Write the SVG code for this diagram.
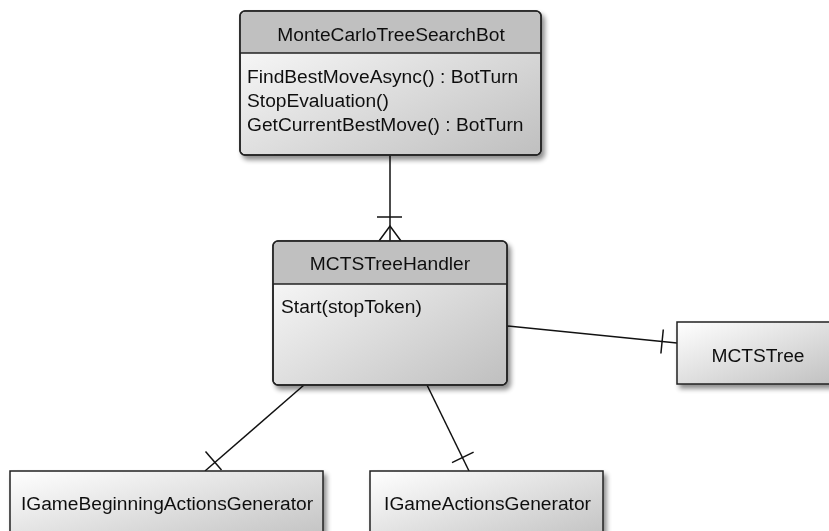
<svg xmlns="http://www.w3.org/2000/svg" width="829" height="531" viewBox="0 0 829 531">
  <style>
    text { font-family: "Liberation Sans", Arial, sans-serif; font-size: 19.2px; fill: #111; }
    .title { text-anchor: middle; }
    .box { stroke: #222; stroke-width: 1.5; fill: url(#bodyGrad); }
    .head { fill: #c0c0c0; stroke: none; }
    .sep { stroke: #222; stroke-width: 1.5; }
    .edge { stroke: #111; stroke-width: 1.5; fill: none; }
  </style>
  <defs>
    <linearGradient id="bodyGrad" x1="0" y1="0" x2="1" y2="1">
      <stop offset="0" stop-color="#ffffff"/>
      <stop offset="1" stop-color="#bfbfbf"/>
    </linearGradient>
    <filter id="shadow" x="-10%" y="-10%" width="125%" height="130%">
      <feGaussianBlur in="SourceAlpha" stdDeviation="2.5"/>
      <feOffset dx="3" dy="4" result="b"/>
      <feComponentTransfer><feFuncA type="linear" slope="0.45"/></feComponentTransfer>
      <feMerge><feMergeNode/><feMergeNode in="SourceGraphic"/></feMerge>
    </filter>
  </defs>

  <rect width="829" height="531" fill="#ffffff"/>

  <!-- connectors -->
  <g id="connectors">
    <!-- bot to handler: one-and-many end -->
    <line class="edge" x1="390" y1="155" x2="390" y2="241"/>
    <line class="edge" x1="377" y1="217" x2="402" y2="217"/>
    <polyline class="edge" points="379,241 390,226 401,241"/>
    <!-- handler to tree -->
    <line class="edge" x1="507" y1="326" x2="677" y2="343"/>
    <line class="edge" x1="660.9" y1="353.5" x2="663.3" y2="329.5"/>
    <!-- handler to beginning generator -->
    <line class="edge" x1="304" y1="385" x2="205" y2="471"/>
    <line class="edge" x1="221.5" y1="470" x2="205.5" y2="451.5"/>
    <!-- handler to actions generator -->
    <line class="edge" x1="427" y1="385" x2="469" y2="471"/>
    <line class="edge" x1="473.6" y1="452.1" x2="452" y2="462.7"/>
  </g>

  <!-- MonteCarloTreeSearchBot -->
  <g id="MonteCarloTreeSearchBot" filter="url(#shadow)">
    <rect class="box" x="240" y="11" width="301" height="144" rx="5"/>
    <path class="head" d="M240.75,53 V16.5 Q240.75,11.75 245.5,11.75 H535.5 Q540.25,11.75 540.25,16.5 V53 Z"/>
    <rect x="240" y="11" width="301" height="144" rx="5" fill="none" stroke="#222" stroke-width="1.5"/>
    <line class="sep" x1="240" y1="53" x2="541" y2="53"/>
    <text class="title" x="391" y="41">MonteCarloTreeSearchBot</text>
    <text x="247" y="83">FindBestMoveAsync() : BotTurn</text>
    <text x="247" y="107">StopEvaluation()</text>
    <text x="247" y="131">GetCurrentBestMove() : BotTurn</text>
  </g>

  <!-- MCTSTreeHandler -->
  <g id="MCTSTreeHandler" filter="url(#shadow)">
    <rect class="box" x="273" y="241" width="234" height="144" rx="5"/>
    <path class="head" d="M273.75,284 V246.5 Q273.75,241.75 278.5,241.75 H501.5 Q506.25,241.75 506.25,246.5 V284 Z"/>
    <rect x="273" y="241" width="234" height="144" rx="5" fill="none" stroke="#222" stroke-width="1.5"/>
    <line class="sep" x1="273" y1="284" x2="507" y2="284"/>
    <text class="title" x="390" y="270">MCTSTreeHandler</text>
    <text x="281" y="313">Start(stopToken)</text>
  </g>

  <!-- MCTSTree -->
  <g id="MCTSTree" filter="url(#shadow)">
    <rect class="box" x="677" y="322" width="165" height="62"/>
    <text class="title" x="758" y="362">MCTSTree</text>
  </g>

  <!-- IGameBeginningActionsGenerator -->
  <g id="IGameBeginningActionsGenerator" filter="url(#shadow)">
    <rect class="box" x="10" y="471" width="313" height="75"/>
    <text class="title" x="167" y="510">IGameBeginningActionsGenerator</text>
  </g>

  <!-- IGameActionsGenerator -->
  <g id="IGameActionsGenerator" filter="url(#shadow)">
    <rect class="box" x="370" y="471" width="233" height="75"/>
    <text class="title" x="487.5" y="510">IGameActionsGenerator</text>
  </g>
</svg>
